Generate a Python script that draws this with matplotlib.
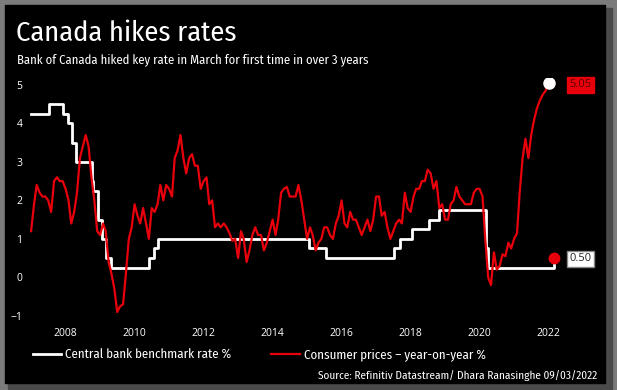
import numpy as np
import pandas as pd
import matplotlib
matplotlib.use("Agg")
import matplotlib.pyplot as plt
from matplotlib.patches import Rectangle

# --------------------------------------------------------------------------------
# Data
# --------------------------------------------------------------------------------

# Bank of Canada overnight rate target, % (date of change, new level)
rate_dates = ["2007-01-01", "2007-07-10", "2007-12-04", "2008-01-22", "2008-03-04",
              "2008-04-22", "2008-10-08", "2008-10-21", "2008-12-09", "2009-01-20",
              "2009-03-03", "2009-04-21", "2010-06-01", "2010-07-20", "2010-09-08",
              "2015-01-21", "2015-07-15", "2017-07-12", "2017-09-06", "2018-01-17",
              "2018-07-11", "2018-10-24", "2020-03-04", "2020-03-13", "2020-03-27",
              "2022-03-02"]
rate_vals = [4.25, 4.50, 4.25, 4.00, 3.50, 3.00, 2.50, 2.25, 1.50, 1.00,
             0.50, 0.25, 0.50, 0.75, 1.00, 0.75, 0.50, 0.75, 1.00, 1.25,
             1.50, 1.75, 1.25, 0.75, 0.25, 0.50]

# Consumer prices y/y %, monthly Jan 2007 - Jan 2022
cpi_start = "2007-01"
cpi_vals = [
    1.2, 1.9, 2.4, 2.2, 2.1, 2.1, 2.0, 1.7, 2.5, 2.6, 2.5, 2.5,   # 2007
    2.3, 2.0, 1.4, 1.7, 2.2, 3.1, 3.4, 3.7, 3.4, 2.6, 2.0, 1.2,   # 2008
    1.1, 1.4, 1.2, 0.4, 0.1, -0.3, -0.9, -0.75, -0.7, 0.1, 1.0, 1.3,  # 2009
    1.9, 1.6, 1.4, 1.8, 1.4, 1.0, 1.8, 1.7, 1.9, 2.4, 2.0, 2.4,   # 2010
    2.3, 2.1, 3.1, 3.3, 3.7, 3.1, 2.7, 3.1, 3.2, 2.9, 2.9, 2.3,   # 2011
    2.5, 2.6, 1.9, 2.0, 1.3, 1.4, 1.3, 1.4, 1.3, 1.15, 0.95, 1.0,  # 2012
    0.5, 1.2, 1.0, 0.4, 0.7, 1.1, 1.3, 1.1, 1.1, 0.7, 0.9, 1.2,   # 2013
    1.5, 1.1, 1.5, 2.2, 2.3, 2.35, 2.1, 2.1, 2.1, 2.4, 2.0, 1.5,  # 2014
    1.0, 1.3, 1.1, 0.7, 0.9, 1.0, 1.3, 1.3, 1.1, 1.0, 1.4, 1.6,   # 2015
    2.0, 1.4, 1.3, 1.7, 1.5, 1.5, 1.3, 1.1, 1.3, 1.5, 1.2, 1.5,   # 2016
    2.1, 2.1, 1.6, 1.7, 1.3, 1.0, 1.2, 1.4, 1.5, 1.4, 2.2, 1.8,   # 2017
    1.7, 2.1, 2.3, 2.3, 2.5, 2.5, 2.8, 2.7, 2.3, 2.5, 1.8, 1.9,   # 2018
    1.5, 1.5, 1.9, 2.0, 2.35, 2.1, 2.0, 1.9, 1.9, 1.9, 2.2, 2.3,  # 2019
    2.3, 2.1, 1.0, 0.0, -0.2, 0.65, 0.2, 0.3, 0.6, 0.55, 0.9, 0.75,  # 2020
    1.0, 1.15, 2.2, 3.1, 3.6, 3.1, 3.7, 4.1, 4.4, 4.6, 4.75, 4.85,  # 2021
    5.05,                                                          # 2022
]

year_ticks = [2008, 2010, 2012, 2014, 2016, 2018, 2020, 2022]
y_ticks = [-1, 0, 1, 2, 3, 4, 5]


def to_year(d):
    d = pd.to_datetime(d)
    return d.year + (d.dayofyear - 1) / (365 + d.is_leap_year)


rate_x = np.array([to_year(d) for d in rate_dates])
cpi_dates = pd.date_range(cpi_start, periods=len(cpi_vals), freq="MS")
cpi_x = np.array([to_year(d) for d in cpi_dates])

# --------------------------------------------------------------------------------
# Figure
# --------------------------------------------------------------------------------

plt.rcParams["font.family"] = ["Fira Sans Condensed", "DejaVu Sans"]

W, H = 617, 390
fig = plt.figure(figsize=(W / 100, H / 100), dpi=100)
fig.patch.set_facecolor("#7b7b7b")

# shadow + black panel (behind the axes)
fig.patches.append(Rectangle((8 / W, 1 - 389 / H), 604 / W, 381 / H,
                             transform=fig.transFigure, color="#4a4a4a", zorder=-2))
fig.patches.append(Rectangle((5 / W, 1 - 383 / H), 600 / W, 378 / H,
                             transform=fig.transFigure, color="black", zorder=-1))

ax = fig.add_axes([28 / W, 1 - 322 / H, (600 - 28) / W, (322 - 78) / H])
ax.patch.set_alpha(0)

ax.plot(cpi_x, cpi_vals, color="#e8000b", lw=1.6, zorder=3,
        label="Consumer prices \u2013 year-on-year %")
ax.step(rate_x, rate_vals, where="post", color="white", lw=2.0, zorder=2,
        label="Central bank benchmark rate %")

# end markers
ax.plot(cpi_x[-1], cpi_vals[-1], "o", ms=8, color="white", zorder=4)
ax.plot(rate_x[-1], rate_vals[-1], "o", ms=7.5, color="#e8000b", zorder=4)

ax.text(2022.6, cpi_vals[-1] - 0.05, f"{cpi_vals[-1]:.2f}", color="#5a0000", fontsize=8,
        va="center", ha="left", family="Open Sans",
        bbox=dict(boxstyle="square,pad=0.2", fc="#e8000b", ec="#e8000b"))
ax.text(2022.6, rate_vals[-1] - 0.02, f"{rate_vals[-1]:.2f}", color="#222222", fontsize=8,
        va="center", ha="left", family="Open Sans",
        bbox=dict(boxstyle="square,pad=0.2", fc="white", ec="#888888"))

ax.set_xlim(2006.91, 2023.49)
ax.set_ylim(-1.16, 5.18)
ax.set_xticks(year_ticks)
ax.set_yticks(y_ticks)
ax.tick_params(colors="white", length=0, labelsize=7.5, pad=4)
for lab in ax.get_xticklabels() + ax.get_yticklabels():
    lab.set_family("Open Sans")
for s in ax.spines.values():
    s.set_visible(False)

# titles
fig.text(16 / W, 1 - 33 / H, "Canada hikes rates", color="white", fontsize=20.5,
         va="center", ha="left")
fig.text(17 / W, 1 - 60 / H, "Bank of Canada hiked key rate in March for first time in over 3 years",
         color="white", fontsize=9.1, va="center", ha="left")

# legend
h_cpi, h_rate = ax.get_legend_handles_labels()[0]
leg = fig.legend([h_rate, h_cpi],
                 ["Central bank benchmark rate %", "Consumer prices \u2013 year-on-year %"],
                 loc="center left", bbox_to_anchor=(33 / W, 1 - 355 / H), ncol=2,
                 frameon=False, fontsize=9.3, handlelength=2.2, handletextpad=0.3,
                 columnspacing=3.1, borderpad=0, borderaxespad=0, labelcolor="white")

fig.text(597 / W, 1 - 376 / H, "Source: Refinitiv Datastream/ Dhara Ranasinghe 09/03/2022",
         color="white", fontsize=8.1, va="center", ha="right")

fig.savefig("out.png", dpi=100, facecolor=fig.get_facecolor())
